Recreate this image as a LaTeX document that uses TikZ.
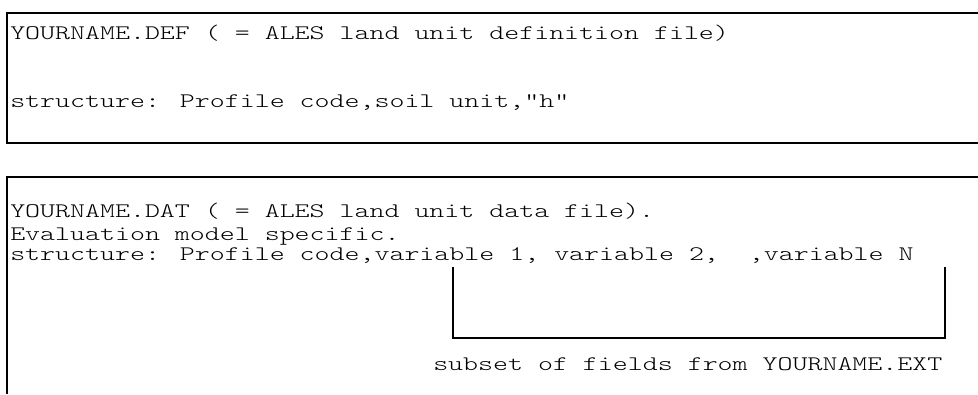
\documentclass[tikz,border=0pt]{standalone}
\usepackage{fontspec}
\newfontfamily\scanmono{lmmonolt10-regular.otf}[FakeStretch=1.38]
\begin{document}
\begin{tikzpicture}[x=0.75pt,y=-0.75pt,
  txt/.style={anchor=base west,inner sep=0pt,font=\scanmono\fontsize{15.5}{19}\selectfont},
  frame/.style={line width=1.1pt},
  brace/.style={line width=0.8pt}]
\useasboundingbox (0,0) rectangle (978,394);

% Definition file
\draw[frame] (978,13) -- (7,13) -- (7,143) -- (978,143);
\node[txt] (defname) at (10,39) {YOURNAME.DEF ( = ALES land unit definition file)};
\node[txt] (defstruct) at (10,107) {structure: Profile code,soil unit,"h"};

% Data file
\draw[frame] (978,177) -- (7,177) -- (7,394);
\node[txt] (datname) at (10,217) {YOURNAME.DAT ( = ALES land unit data file).};
\node[txt] (datmodel) at (10,240) {Evaluation model specific.};
\node[txt] (datstruct) at (10,260) {structure: Profile code,variable 1, variable 2,~~,variable N};

% Subset bracket
\coordinate (brtopl) at (453,267);
\coordinate (brtopr) at (945,267);
\coordinate (brbotl) at (453,338);
\draw[brace] (brtopl) -- (brbotl) -| (brtopr);
\node[txt] (subset) at (433,370) {subset of fields from YOURNAME.EXT};
\end{tikzpicture}
\end{document}
